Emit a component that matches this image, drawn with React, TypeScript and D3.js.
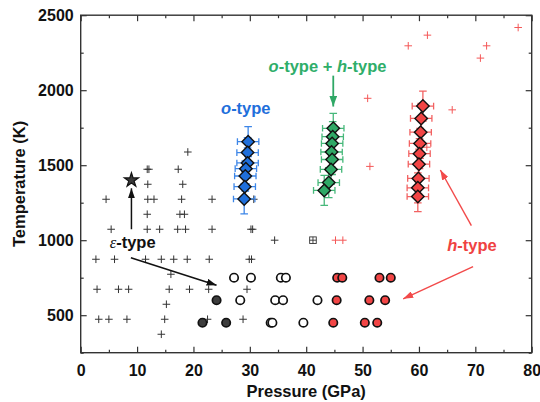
import React, { useEffect, useRef } from 'react';
import * as d3 from 'd3';

// [pressure GPa, temperature K]
const blackPlus: [number, number][] = [
  [19.0, 1588],
  [11.8, 1473], [12.1, 1473], [17.3, 1473],
  [11.9, 1373], [18.1, 1373],
  [4.5, 1273], [11.9, 1273], [13.0, 1273], [17.9, 1273], [23.3, 1273], [30.7, 1273],
  [11.8, 1173], [17.6, 1173], [18.4, 1173],
  [5.4, 1073], [11.8, 1073], [14.0, 1073], [17.2, 1073], [18.6, 1073], [23.3, 1073], [30.2, 1073], [30.5, 1073],
  [34.4, 1000],
  [2.7, 873], [6.0, 873], [11.5, 873], [14.3, 873], [16.5, 873], [18.9, 873], [22.8, 873], [29.9, 873], [30.3, 873],
  [16.0, 773],
  [2.9, 673], [6.7, 673], [8.5, 673], [15.7, 673], [19.3, 673], [22.7, 673], [29.5, 673],
  [15.2, 573],
  [3.2, 473], [5.0, 473], [8.2, 473], [14.9, 473], [22.5, 473], [28.8, 473],
  [14.3, 373],
];
const boxedPlus: [number, number][] = [[41.2, 1000]];
const redPlus: [number, number][] = [
  [77.6, 2418], [61.5, 2367], [58.1, 2296], [72.0, 2296], [70.9, 2214],
  [50.9, 1946], [65.9, 1869], [51.3, 1492], [61.4, 1620], [45.2, 1000], [46.5, 1000],
];
const openCircles: [number, number][] = [
  [27.2, 750], [30.2, 750], [35.5, 750], [36.4, 750],
  [28.3, 600], [34.5, 600], [35.9, 600], [42.0, 600],
  [33.7, 450], [34.0, 450], [39.5, 450],
];
const darkCircles: [number, number][] = [[24.1, 600], [21.6, 450], [25.8, 450]];
const redCircles: [number, number][] = [
  [45.5, 750], [46.4, 750], [53.0, 750], [55.0, 750],
  [45.4, 600], [51.2, 600], [54.0, 600],
  [44.8, 450], [50.4, 450], [52.6, 450],
];
const star: [number, number][] = [[9.0, 1400]];

const oTypeP = [29.7, 29.6, 29.6, 29.3, 29.2, 29.1, 29.0];
const oTypeT = [1657, 1584, 1515, 1477, 1428, 1357, 1275];
const ohTypeP = [44.8, 44.7, 44.6, 44.5, 44.6, 44.4, 44.0, 43.2];
const ohTypeT = [1746, 1690, 1645, 1588, 1538, 1472, 1384, 1332];
const hTypeP = [60.7, 60.4, 60.3, 60.2, 60.1, 60.0, 59.9, 59.8, 59.8];
const hTypeT = [1894, 1812, 1720, 1645, 1577, 1507, 1412, 1349, 1291];
const pErr = 1.9;
const tErr = 100;

const xTicks = [0, 10, 20, 30, 40, 50, 60, 70, 80];
const xMinor = [5, 15, 25, 35, 45, 55, 65, 75];
const yTicks = [500, 1000, 1500, 2000, 2500];
const yMinor = [250, 750, 1250, 1750, 2250];

export default function App() {
  const ref = useRef<SVGSVGElement>(null);

  useEffect(() => {
    const svg = d3.select(ref.current);
    svg.selectAll('*').remove();

    const left = 80.7, right = 531.7, top = 15.2, bottom = 352.7;
    const x = d3.scaleLinear().domain([0, 80]).range([left, right]);
    const y = d3.scaleLinear().domain([250, 2500]).range([bottom, top]);

    const defs = svg.append('defs');
    const marker = (id: string, color: string, w: number, h: number) =>
      defs.append('marker')
        .attr('id', id)
        .attr('markerUnits', 'userSpaceOnUse')
        .attr('markerWidth', w).attr('markerHeight', h)
        .attr('refX', w).attr('refY', h / 2)
        .attr('orient', 'auto')
        .append('path')
        .attr('d', `M0,0L${w},${h / 2}L0,${h}z`)
        .attr('fill', color);
    marker('ah-black', '#111', 10, 7);
    marker('ah-red', '#f24a4a', 10, 7);
    marker('ah-green', '#2fa866', 11, 8);

    // Axes (ticks inward on all four sides)
    const axisColor = '#333';
    const addAxis = (ax: any, tx: string, labels: boolean) => {
      const g = svg.append('g').attr('transform', tx).call(ax);
      g.select('.domain').remove();
      g.selectAll('line').attr('stroke', axisColor).attr('stroke-width', 1.2);
      if (!labels) g.selectAll('text').remove();
      else g.selectAll('text')
        .attr('fill', '#111')
        .style('font-size', '16px')
        .style('font-weight', 'bold')
        .style('font-family', '"Liberation Sans", Arial, sans-serif');
      return g;
    };
    addAxis(d3.axisBottom(x).tickValues(xTicks).tickSize(-6).tickPadding(11.5).tickFormat(d3.format('d')), `translate(0,${bottom})`, true);
    addAxis(d3.axisBottom(x).tickValues(xMinor).tickSize(-3), `translate(0,${bottom})`, false);
    addAxis(d3.axisTop(x).tickValues(xTicks).tickSize(-6), `translate(0,${top})`, false);
    addAxis(d3.axisTop(x).tickValues(xMinor).tickSize(-3), `translate(0,${top})`, false);
    addAxis(d3.axisLeft(y).tickValues(yTicks).tickSize(-6).tickPadding(7).tickFormat(d3.format('d')), `translate(${left},0)`, true);
    addAxis(d3.axisLeft(y).tickValues(yMinor).tickSize(-3), `translate(${left},0)`, false);
    addAxis(d3.axisRight(y).tickValues(yTicks).tickSize(-6), `translate(${right},0)`, false);
    addAxis(d3.axisRight(y).tickValues(yMinor).tickSize(-3), `translate(${right},0)`, false);

    svg.append('rect')
      .attr('x', left).attr('y', top)
      .attr('width', right - left).attr('height', bottom - top)
      .attr('fill', 'none').attr('stroke', axisColor).attr('stroke-width', 1.4);

    // Axis titles
    svg.append('text')
      .attr('x', (left + right) / 2).attr('y', 397)
      .attr('text-anchor', 'middle')
      .style('font-size', '16.5px').style('font-weight', 'bold').attr('fill', '#111')
      .text('Pressure (GPa)');
    svg.append('text')
      .attr('transform', `translate(24.5,${(top + bottom) / 2}) rotate(-90)`)
      .attr('text-anchor', 'middle')
      .style('font-size', '16.5px').style('font-weight', 'bold').attr('fill', '#111')
      .text('Temperature (K)');

    const plusPath = (h: number) => `M${-h},0H${h}M0,${-h}V${h}`;

    // Plus markers
    svg.append('g').selectAll('path').data(blackPlus).enter().append('path')
      .attr('transform', d => `translate(${x(d[0])},${y(d[1])})`)
      .attr('d', plusPath(3.8))
      .attr('stroke', '#333').attr('stroke-width', 1).attr('fill', 'none');
    const bp = svg.append('g').selectAll('g').data(boxedPlus).enter().append('g')
      .attr('transform', d => `translate(${x(d[0])},${y(d[1])})`);
    bp.append('rect').attr('x', -3.3).attr('y', -3.3).attr('width', 6.6).attr('height', 6.6)
      .attr('fill', 'none').attr('stroke', '#333').attr('stroke-width', 0.9);
    bp.append('path').attr('d', plusPath(3.3)).attr('stroke', '#333').attr('stroke-width', 0.9);
    svg.append('g').selectAll('path').data(redPlus).enter().append('path')
      .attr('transform', d => `translate(${x(d[0])},${y(d[1])})`)
      .attr('d', plusPath(3.8))
      .attr('stroke', '#f45858').attr('stroke-width', 1).attr('fill', 'none');

    // Circles
    const circles = (data: [number, number][], fill: string) =>
      svg.append('g').selectAll('circle').data(data).enter().append('circle')
        .attr('cx', d => x(d[0])).attr('cy', d => y(d[1]))
        .attr('r', 4.2)
        .attr('fill', fill).attr('stroke', '#111').attr('stroke-width', 1.7);
    circles(openCircles, '#fff');
    circles(darkCircles, '#3d3d3d');
    circles(redCircles, '#f24545');

    // Star
    svg.append('g').selectAll('path').data(star).enter().append('path')
      .attr('transform', d => `translate(${x(d[0])},${y(d[1])})`)
      .attr('d', d3.symbol().type(d3.symbolStar).size(62)())
      .attr('fill', '#3a3a3a').attr('stroke', '#111').attr('stroke-width', 1.2);

    // Diamond series with error bars
    const diamondSeries = (ps: number[], ts: number[], fill: string, errColor: string) => {
      const data = ps.map((p, i) => [p, ts[i]]);
      const eg = svg.append('g').attr('stroke', errColor).attr('stroke-width', 1.3).attr('fill', 'none');
      data.forEach(([p, t]) => {
        const cx = x(p), cy = y(t);
        const x0 = x(p - pErr), x1 = x(p + pErr), y0 = y(t - tErr), y1 = y(t + tErr);
        eg.append('path').attr('d',
          `M${x0},${cy}H${x1}M${x0},${cy - 3.3}V${cy + 3.3}M${x1},${cy - 3.3}V${cy + 3.3}` +
          `M${cx},${y0}V${y1}M${cx - 3.8},${y0}H${cx + 3.8}M${cx - 3.8},${y1}H${cx + 3.8}`);
      });
      svg.append('g').selectAll('path').data(data).enter().append('path')
        .attr('transform', d => `translate(${x(d[0])},${y(d[1])}) rotate(45)`)
        .attr('d', d3.symbol().type(d3.symbolSquare).size(78)())
        .attr('fill', fill).attr('stroke', '#111').attr('stroke-width', 1.4);
    };
    diamondSeries(oTypeP, oTypeT, '#1f6fdb', '#3d86e8');
    diamondSeries(ohTypeP, ohTypeT, '#2fa866', '#46b87a');
    diamondSeries(hTypeP, hTypeT, '#f24545', '#f26262');

    // Annotations
    const arrow = (p0: [number, number], p1: [number, number], color: string, id: string, w: number) =>
      svg.append('line')
        .attr('x1', x(p0[0])).attr('y1', y(p0[1]))
        .attr('x2', x(p1[0])).attr('y2', y(p1[1]))
        .attr('stroke', color).attr('stroke-width', w)
        .attr('marker-end', `url(#${id})`);
    arrow([9.0, 1073], [9.0, 1346], '#111', 'ah-black', 1.5);
    arrow([8.9, 883], [24.1, 700], '#111', 'ah-black', 1.5);
    arrow([44.8, 2097], [44.8, 1891], '#2fa866', 'ah-green', 1.8);
    arrow([69.3, 1097], [63.8, 1468], '#f24a4a', 'ah-red', 1.4);
    arrow([69.6, 824], [57.2, 609], '#f24a4a', 'ah-red', 1.4);

    const label = (px: number, py: number, color: string, parts: [string, boolean, string?][]) => {
      const t = svg.append('text')
        .attr('x', px).attr('y', py).attr('text-anchor', 'middle')
        .attr('fill', color)
        .style('font-size', '16.5px').style('font-weight', 'bold');
      parts.forEach(([s, it, fam]) => {
        const ts = t.append('tspan').text(s);
        if (it) ts.style('font-style', 'italic');
        if (fam) ts.style('font-family', fam).style('font-weight', 'normal');
      });
    };
    label(132.6, 247.5, '#111', [['ε', true, '"Liberation Serif", serif'], ['-type', false]]);
    label(245.8, 114, '#1f6fdb', [['o', true], ['-type', false]]);
    label(327.5, 72, '#2fae6a', [['o', true], ['-type + ', false], ['h', true], ['-type', false]]);
    label(472, 251, '#ef4242', [['h', true], ['-type', false]]);
  }, []);

  return (
    <svg
      ref={ref}
      width={540}
      height={402}
      style={{ position: 'absolute', left: 0, top: 0, background: '#fff', fontFamily: '"Liberation Sans", Arial, sans-serif' }}
    />
  );
}
